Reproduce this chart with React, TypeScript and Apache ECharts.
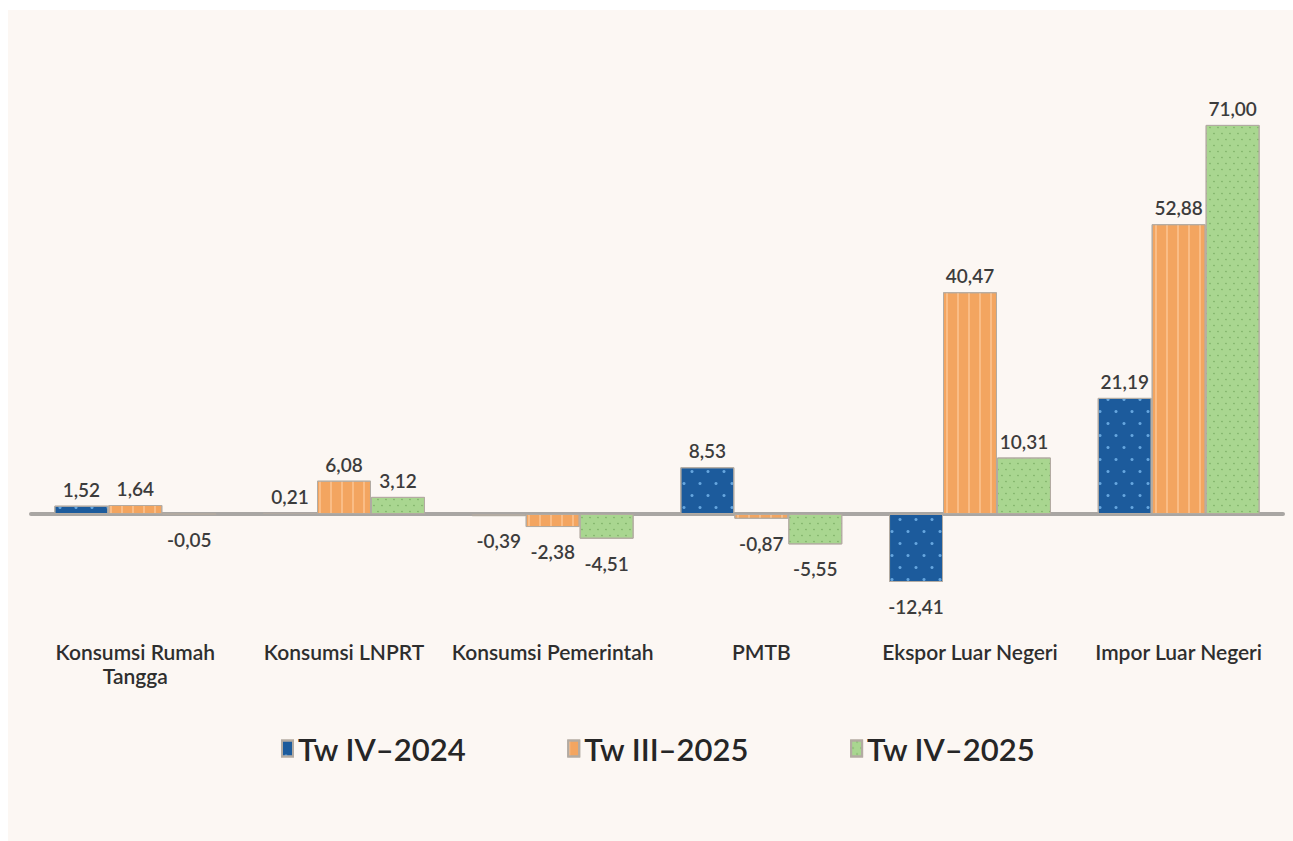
import React, { useEffect, useRef } from "react";
import * as echarts from "echarts";

const categories = [
  "Konsumsi Rumah Tangga",
  "Konsumsi LNPRT",
  "Konsumsi Pemerintah",
  "PMTB",
  "Ekspor Luar Negeri",
  "Impor Luar Negeri",
];
const seriesNames = ["Tw IV\u20132024", "Tw III\u20132025", "Tw IV\u20132025"];
const twIV2024 = [1.52, 0.21, -0.39, 8.53, -12.41, 21.19];
const twIII2025 = [1.64, 6.08, -2.38, -0.87, 40.47, 52.88];
const twIV2025 = [-0.05, 3.12, -4.51, -5.55, 10.31, 71.0];
const yTicks = { min: -20, max: 80, interval: 20 };

const fmt = (v: number) => v.toFixed(2).replace(".", ",");

export default function App() {
  const ref = useRef<HTMLDivElement>(null);
  useEffect(() => {
    const chart = echarts.init(ref.current!, null, { renderer: "svg" });
    const labelStyle = {
      show: true,
      fontFamily: "Lato",
      fontSize: 19,
      fontWeight: 600,
      color: "#3c3c3c",
    };
    const mk = (name: string, values: number[], color: string, decal: any) => ({
      name,
      type: "bar",
      barGap: "0%",
      barCategoryGap: "22.4%",
      itemStyle: { color, borderColor: "#b3aba2", borderWidth: 1, decal },
      data: values.map((v) => ({
        value: v,
        label: {
          ...labelStyle,
          position: v >= 0 ? "top" : "bottom",
          distance: v >= 0 ? 7 : 15,
          formatter: () => fmt(v),
        },
      })),
    });
    chart.setOption({
      animation: false,
      backgroundColor: "transparent",
      grid: { left: 31, right: 10, top: 75.6, bottom: 217.4 },
      legend: {
        top: 728,
        left: 276,
        itemWidth: 11,
        itemHeight: 16,
        itemGap: 101,
        textStyle: { fontFamily: "Lato", fontSize: 31, fontWeight: 600, color: "#262626" },
        icon: "rect",
      },
      xAxis: [
        {
          type: "category",
          data: categories,
          position: "bottom",
          axisLine: { show: false, onZero: false },
          axisTick: { show: false },
          axisLabel: {
            margin: 16,
            fontFamily: "Lato",
            fontSize: 21,
            fontWeight: 600,
            color: "#2e2e2e",
            lineHeight: 24,
            interval: 0,
            formatter: (v: string) => (v === "Konsumsi Rumah Tangga" ? "Konsumsi Rumah\nTangga" : v),
          },
        },
        {
          type: "category",
          data: categories,
          axisLine: { show: true, onZero: true, lineStyle: { color: "#a9a6a3", width: 4 } },
          axisTick: { show: false },
          axisLabel: { show: false },
        },
      ],
      yAxis: {
        type: "value",
        min: yTicks.min,
        max: yTicks.max,
        interval: yTicks.interval,
        show: false,
        splitLine: { show: false },
      },
      series: [
        mk(seriesNames[0], twIV2024, "#1c5b9c", {
          symbol: "circle",
          symbolSize: 0.45,
          color: "rgba(120,185,240,0.8)",
          dashArrayX: [[8, 8], [0, 8, 8, 0]],
          dashArrayY: [7, 5],
        }),
        mk(seriesNames[1], twIII2025, "#f3a560", {
          symbol: "rect",
          symbolSize: 1,
          color: "rgba(255,205,160,0.6)",
          dashArrayX: [2, 9],
          dashArrayY: [10, 0],
        }),
        mk(seriesNames[2], twIV2025, "#a9d690", {
          symbol: "circle",
          symbolSize: 0.5,
          color: "rgba(90,145,70,0.6)",
          dashArrayX: [[4, 4], [0, 4, 4, 0]],
          dashArrayY: [3, 3],
        }),
      ],
    });
    return () => chart.dispose();
  }, []);
  return (
    <div
      style={{
        position: "fixed",
        left: 0,
        top: 0,
        width: 1293,
        height: 841,
        boxSizing: "border-box",
        background: "#fcf7f3",
        borderTop: "10px solid #ffffff",
        borderLeft: "8px solid #ffffff",
      }}
    >
      <div ref={ref} style={{ position: "absolute", left: -8, top: -10, width: 1293, height: 841 }} />
    </div>
  );
}
